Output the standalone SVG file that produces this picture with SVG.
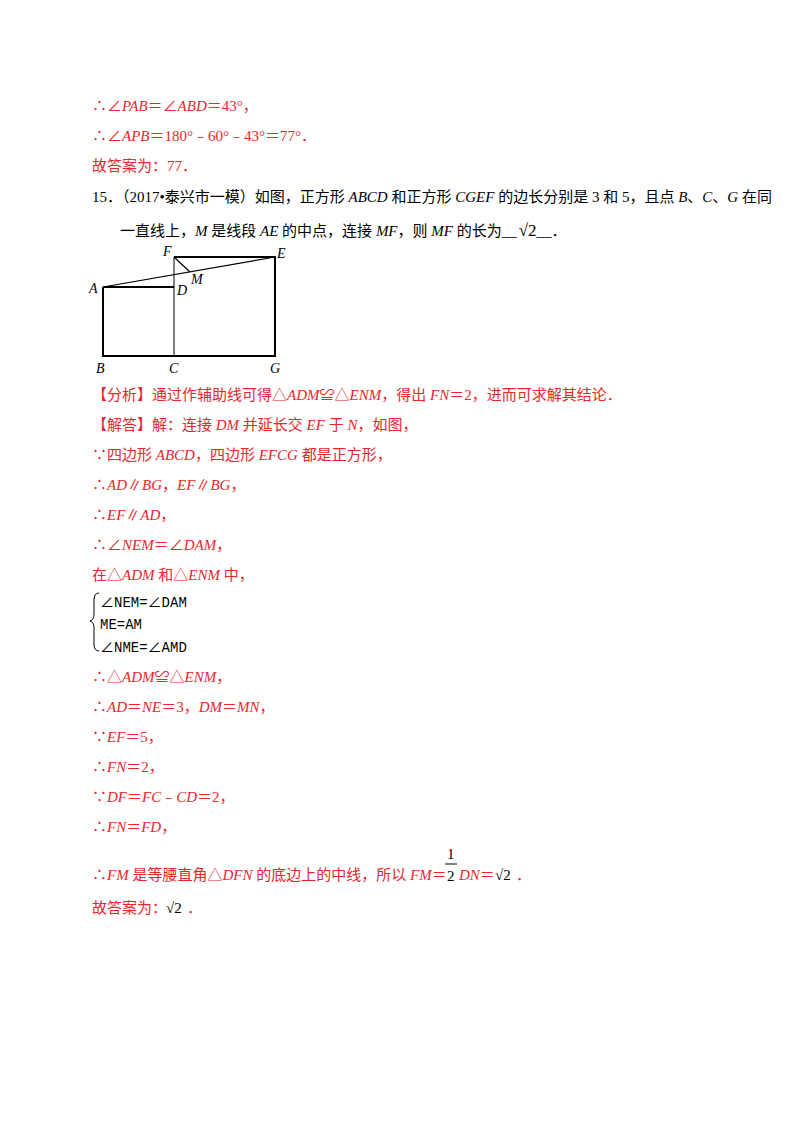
<svg xmlns="http://www.w3.org/2000/svg" width="800" height="1132" viewBox="0 0 800 1132">
<style>
text{font-family:"Liberation Serif","Noto Sans CJK SC",serif;font-size:15px}
.r{fill:#e8262b}
.k{fill:#000}
.i{font-style:italic}
.lab{font-family:"Liberation Serif",serif;font-style:italic;font-size:14px;fill:#000}
.mono{font-family:"Liberation Mono","Noto Sans CJK SC",monospace;font-size:14px;fill:#000}
</style>
<rect width="800" height="1132" fill="#fff"/>
<text class="r" x="92" y="111">∴∠<tspan class="i">PAB</tspan>＝∠<tspan class="i">ABD</tspan>＝43°，</text>
<text class="r" x="92" y="141">∴∠<tspan class="i">APB</tspan>＝180°﹣60°﹣43°＝77°．</text>
<text class="r" x="92" y="171">故答案为：77．</text>
<text class="k" x="92" y="202">15．（2017•泰兴市一模）如图，正方形 <tspan class="i">ABCD</tspan> 和正方形 <tspan class="i">CGEF</tspan> 的边长分别是 3 和 5，且点 <tspan class="i">B</tspan>、<tspan class="i">C</tspan>、<tspan class="i">G</tspan> 在同</text>
<text class="k" x="120" y="236">一直线上，<tspan class="i">M</tspan> 是线段 <tspan class="i">AE</tspan> 的中点，连接 <tspan class="i">MF</tspan>，则 <tspan class="i">MF</tspan> 的长为__<tspan dx="2" font-size="17">√2</tspan>__．</text>
<g id="figure" fill="none" stroke="#000">
<path d="M103,287 H174 M103,287 V356 H275 V257 H174" stroke-width="2"/>
<line x1="174" y1="257" x2="174" y2="356" stroke-width="1"/>
<line x1="103" y1="287" x2="275" y2="257" stroke-width="1.2"/>
<line x1="174" y1="257" x2="190" y2="272" stroke-width="1.2"/>
</g>
<g id="labels">
<text class="lab" x="163" y="256">F</text>
<text class="lab" x="277" y="258">E</text>
<text class="lab" x="191" y="284">M</text>
<text class="lab" x="89" y="293">A</text>
<text class="lab" x="177" y="295">D</text>
<text class="lab" x="96" y="373">B</text>
<text class="lab" x="169" y="373">C</text>
<text class="lab" x="270" y="373">G</text>
</g>
<text class="r" x="92" y="400">【分析】通过作辅助线可得△<tspan class="i">ADM</tspan>≌△<tspan class="i">ENM</tspan>，得出 <tspan class="i">FN</tspan>＝2，进而可求解其结论．</text>
<text class="r" x="92" y="430">【解答】解：连接 <tspan class="i">DM</tspan> 并延长交 <tspan class="i">EF</tspan> 于 <tspan class="i">N</tspan>，如图，</text>
<text class="r" x="92" y="460">∵四边形 <tspan class="i">ABCD</tspan>，四边形 <tspan class="i">EFCG</tspan> 都是正方形，</text>
<text class="r" x="92" y="490">∴<tspan class="i">AD</tspan>∥<tspan class="i">BG</tspan>，<tspan class="i">EF</tspan>∥<tspan class="i">BG</tspan>，</text>
<text class="r" x="92" y="520">∴<tspan class="i">EF</tspan>∥<tspan class="i">AD</tspan>，</text>
<text class="r" x="92" y="550">∴∠<tspan class="i">NEM</tspan>＝∠<tspan class="i">DAM</tspan>，</text>
<text class="r" x="92" y="580">在△<tspan class="i">ADM</tspan> 和△<tspan class="i">ENM</tspan> 中，</text>
<path d="M99,593 Q94,593 94,600 V614 Q94,620 90,621 Q94,622 94,628 V644 Q94,651 99,651" fill="none" stroke="#000" stroke-width="1"/>
<text class="mono" x="100" y="607">∠NEM=∠DAM</text>
<text class="mono" x="100" y="629">ME=AM</text>
<text class="mono" x="100" y="652">∠NME=∠AMD</text>
<text class="r" x="92" y="682">∴△<tspan class="i">ADM</tspan>≌△<tspan class="i">ENM</tspan>，</text>
<text class="r" x="92" y="712">∴<tspan class="i">AD</tspan>＝<tspan class="i">NE</tspan>＝3，<tspan class="i">DM</tspan>＝<tspan class="i">MN</tspan>，</text>
<text class="r" x="92" y="742">∵<tspan class="i">EF</tspan>＝5，</text>
<text class="r" x="92" y="772">∴<tspan class="i">FN</tspan>＝2，</text>
<text class="r" x="92" y="802">∵<tspan class="i">DF</tspan>＝<tspan class="i">FC</tspan>﹣<tspan class="i">CD</tspan>＝2，</text>
<text class="r" x="92" y="832">∴<tspan class="i">FN</tspan>＝<tspan class="i">FD</tspan>，</text>
<text class="r" x="92" y="880">∴<tspan class="i">FM</tspan> 是等腰直角△<tspan class="i">DFN</tspan> 的底边上的中线，所以 <tspan class="i">FM</tspan>＝</text>
<text class="k" x="447" y="859" font-size="15">1</text>
<line x1="445" y1="864" x2="457" y2="864" stroke="#000" stroke-width="1"/>
<text class="k" x="447" y="881" font-size="15">2</text>
<text class="r" x="459" y="880"><tspan class="i">DN</tspan>＝</text>
<text class="k" x="495" y="880" font-size="17">√2</text>
<text class="r" x="516" y="880">．</text>
<text class="r" x="92" y="913">故答案为：</text>
<text class="k" x="166" y="913" font-size="17">√2</text>
<text class="r" x="187" y="913">．</text>
</svg>
